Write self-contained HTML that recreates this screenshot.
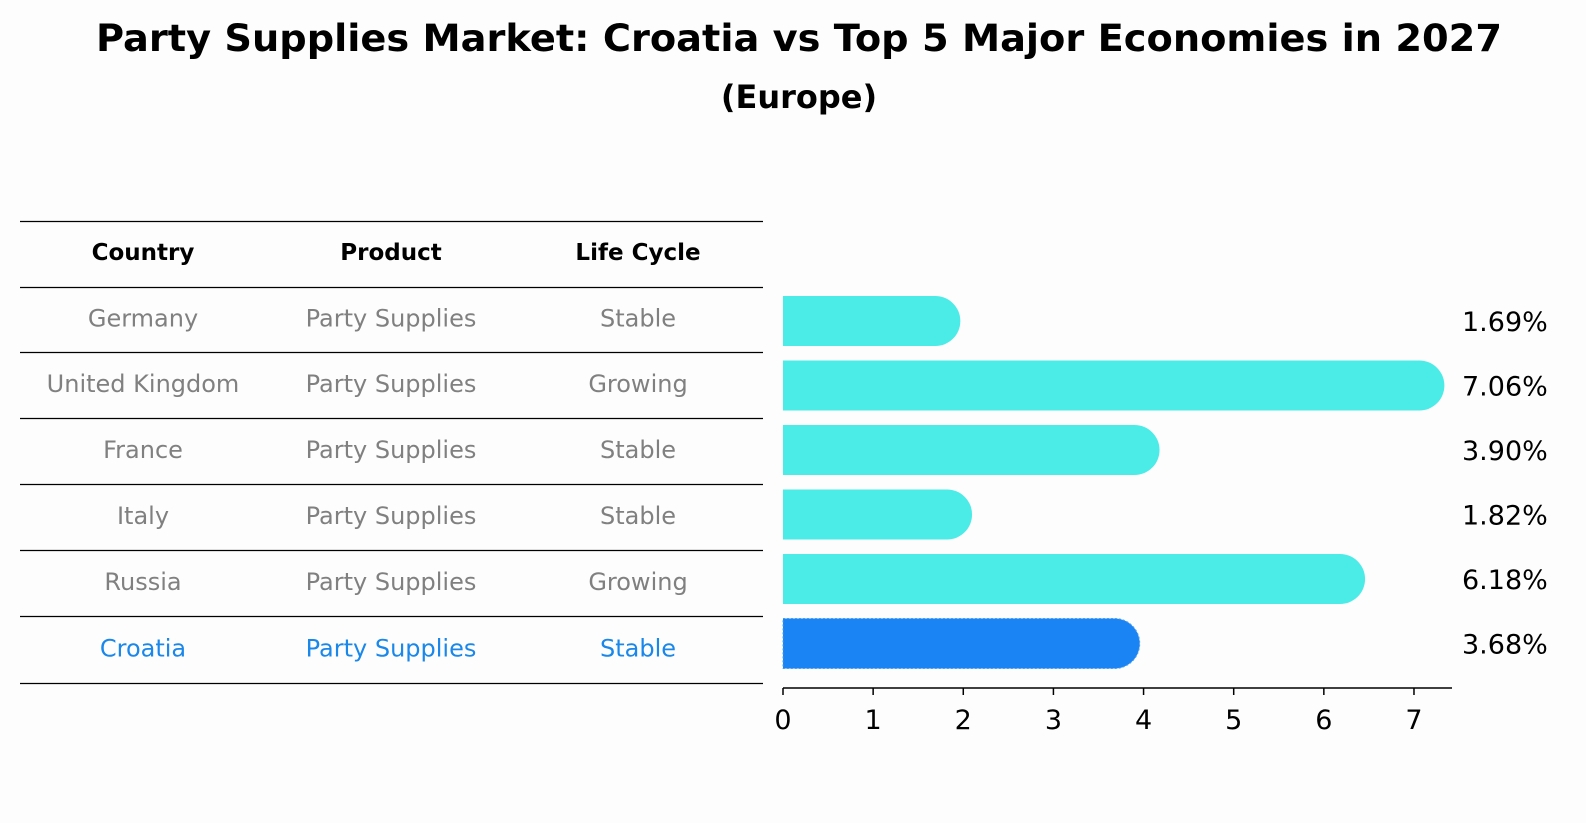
<!DOCTYPE html>
<html><head><meta charset="utf-8"><style>
html,body{margin:0;padding:0;overflow:hidden;width:1586px;height:823px;background:#fdfdfd;font-family:"Liberation Sans","DejaVu Sans",sans-serif;}
svg{display:block;}
svg text{font-family:"DejaVu Sans","Liberation Sans",sans-serif;}
</style></head><body>
<svg width="1586" height="823" viewBox="0 0 1586 823">
<rect width="1586" height="823" fill="#fdfdfd"/>
<text x="799" y="51" text-anchor="middle" font-size="37" font-weight="bold" textLength="1406" lengthAdjust="spacingAndGlyphs">Party Supplies Market: Croatia vs Top 5 Major Economies in 2027</text>
<text x="799" y="108" text-anchor="middle" font-size="32" font-weight="bold">(Europe)</text>
<g id="table"></g>
<g id="bars"></g>
</svg>
<script>
const countries=["Germany","United Kingdom","France","Italy","Russia","Croatia"];
const products=["Party Supplies","Party Supplies","Party Supplies","Party Supplies","Party Supplies","Party Supplies"];
const lifecycles=["Stable","Growing","Stable","Stable","Growing","Stable"];
const values=[1.69,7.06,3.90,1.82,6.18,3.68];
const ticks=[0,1,2,3,4,5,6,7];
const NS="http://www.w3.org/2000/svg";
function mk(tag,attrs,parent){const e=document.createElementNS(NS,tag);for(const k in attrs)e.setAttribute(k,attrs[k]);parent.appendChild(e);return e;}
const tbl=document.getElementById('table');
const lineYs=[221,287,352,418,484,550,616,683];
lineYs.forEach((y,i)=>{const l=mk('line',{x1:20,x2:763,y1:y+0.5,y2:y+0.5,stroke:'#000','stroke-width':1.3},tbl);

});
const colX=[143,391,638];
["Country","Product","Life Cycle"].forEach((h,i)=>{const t=mk('text',{x:colX[i],y:260,'text-anchor':'middle','font-size':23,'font-weight':'bold'},tbl);t.textContent=h;

});
countries.forEach((c,r)=>{const y=(lineYs[r+1]+lineYs[r+2])/2+7;const col=c==="Croatia"?"#1a87ea":"#808080";
[c,products[r],lifecycles[r]].forEach((v,i)=>{const t=mk('text',{x:colX[i],y:y,'text-anchor':'middle','font-size':24,fill:col},tbl);t.textContent=v;

});});
const bg=document.getElementById('bars');
const x0=783,ppu=90.14;const xs=v=>x0+v*ppu;
const rowTop=r=>296+r*64.5;const bh=50;
values.forEach((v,r)=>{const y=rowTop(r);const xe=xs(v);const isC=countries[r]==="Croatia";
const col=isC?"#1a84f5":"#4bece8";
const p=mk('path',{d:`M${x0},${y} H${xe} A${bh/2},${bh/2} 0 0 1 ${xe},${y+bh} H${x0} Z`,fill:col},bg);
if(isC){p.setAttribute('stroke','#4a9ef0');p.setAttribute('stroke-dasharray','2,2');}


const t=mk('text',{x:1462,y:y+bh/2+10,'font-size':27},bg);t.textContent=v.toFixed(2)+"%";

});
const ax=mk('line',{x1:x0,x2:1452,y1:688,y2:688,stroke:'#000','stroke-width':1.5},bg);


ticks.forEach(tk=>{const tl=mk('line',{x1:xs(tk),x2:xs(tk),y1:688,y2:695,stroke:'#000','stroke-width':1.5},bg);


const t=mk('text',{x:xs(tk),y:729,'text-anchor':'middle','font-size':27},bg);t.textContent=tk;

});
</script>
</body></html>
